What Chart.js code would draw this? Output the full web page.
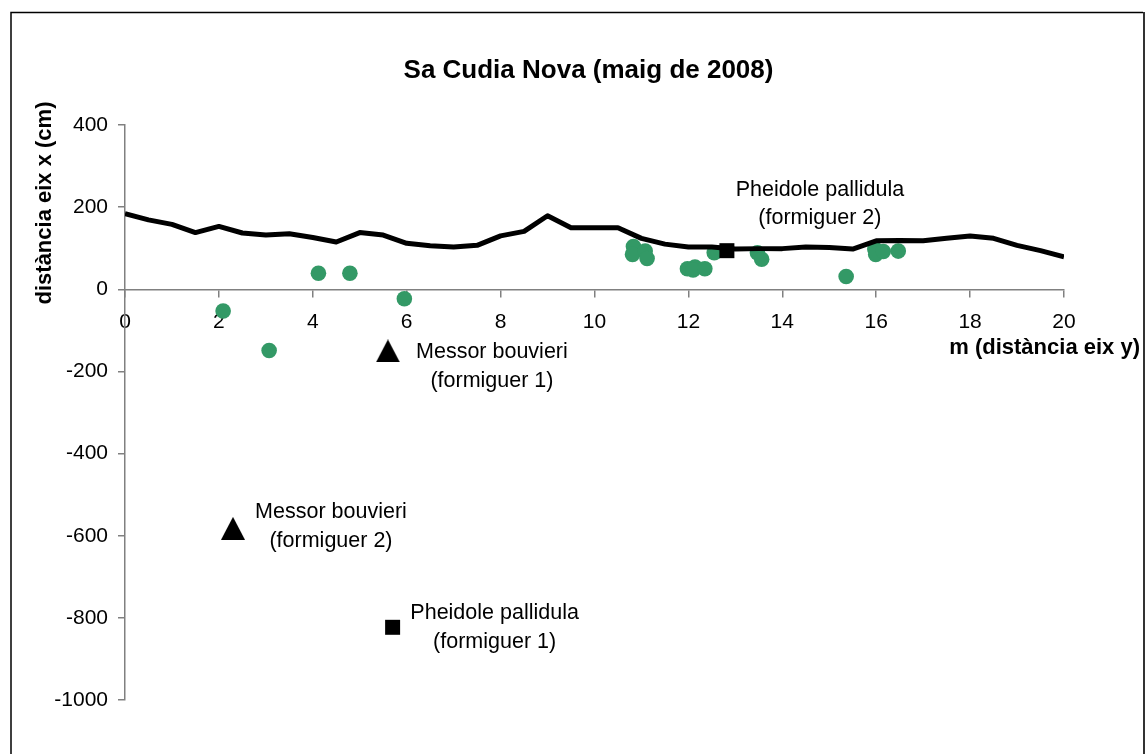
<!DOCTYPE html>
<html>
<head>
<meta charset="utf-8">
<title>Sa Cudia Nova (maig de 2008)</title>
<script src="https://cdn.jsdelivr.net/npm/chart.js@4/dist/chart.umd.min.js"></script>
<style>
  html, body { margin: 0; padding: 0; background: #fff; }
  #wrap { width: 1147px; height: 754px; }
</style>
</head>
<body>
<div id="wrap"><canvas id="myChart" width="1147" height="754"></canvas></div>
<script>
// ===== data =====
const lineX = [0, 0.5, 1, 1.5, 2, 2.5, 3, 3.5, 4, 4.5, 5, 5.5, 6, 6.5, 7, 7.5, 8, 8.5, 9, 9.5, 10,
  10.5, 11, 11.5, 12, 12.5, 13, 13.5, 14, 14.5, 15, 15.5, 16, 16.5, 17, 17.5, 18, 18.5, 19, 19.5, 20];
const lineY = [184, 169, 158, 138, 153, 137, 132, 135, 126, 115, 138, 132, 112, 106, 103, 107, 130, 141, 179, 150, 150,
  150, 124, 110, 103, 103, 98, 99, 99, 103, 102, 98, 118, 119, 118, 124, 130, 124, 107, 94, 79];

const antX = [2.09, 3.07, 4.12, 4.79, 5.95, 10.83, 10.81, 11.08, 11.12, 11.98, 12.14, 12.1, 12.35, 12.55,
  13.47, 13.56, 15.36, 15.97, 15.99, 16.15, 16.47];
const antY = [-53, -149, 39, 39, -23, 104, 85, 93, 75, 50, 54, 47, 50, 89,
  89, 73, 31, 98, 85, 92, 93];

const messorX = [5.6, 2.3];
const messorY = [-150, -582];
const messorNames = [["Messor bouvieri", "(formiguer 1)"], ["Messor bouvieri", "(formiguer 2)"]];

const pheidoleX = [5.7, 12.82];
const pheidoleY = [-823, 94];
const pheidoleNames = [["Pheidole pallidula", "(formiguer 1)"], ["Pheidole pallidula", "(formiguer 2)"]];

const xTicks = [0, 20, 2];      // min, max, step
const yTicks = [-1000, 400, 200];

const chartTitle = "Sa Cudia Nova (maig de 2008)";
const xTitle = "m (distància eix y)";
const yTitle = "distància eix x (cm)";

// ===== helpers =====
const FONT = "'Liberation Sans', Arial, sans-serif";
const GREEN = "#339966";
const AXIS = "#808080";

function toPoints(xs, ys) {
  return xs.map((x, i) => ({ x: x, y: ys[i] }));
}

function makeTriangle(w, h) {
  const c = document.createElement("canvas");
  c.width = w;
  c.height = h;
  const t = c.getContext("2d");
  t.fillStyle = "#000";
  t.beginPath();
  t.moveTo(w / 2, 0);
  t.lineTo(w, h);
  t.lineTo(0, h);
  t.closePath();
  t.fill();
  return c;
}

// label offsets from the marker, [dx, dy line1, dy line2]
const messorLabelPos = [[104, 1, 30], [98, -16, 13]];
const pheidoleLabelPos = [[102, -14, 15], [93, -61, -33]];

// ===== plugins =====
const framePlugin = {
  id: "frame",
  beforeDraw(chart) {
    const ctx = chart.ctx;
    ctx.save();
    ctx.fillStyle = "#fff";
    ctx.fillRect(0, 0, chart.width, chart.height);
    ctx.strokeStyle = "#000";
    ctx.lineWidth = 1.5;
    ctx.beginPath();
    ctx.moveTo(11, chart.height + 5);
    ctx.lineTo(11, 12.5);
    ctx.lineTo(1143, 12.5);
    ctx.stroke();
    ctx.strokeStyle = "#333";
    ctx.lineWidth = 2;
    ctx.beginPath();
    ctx.moveTo(1144, 12);
    ctx.lineTo(1144, chart.height + 5);
    ctx.stroke();
    ctx.restore();
  },
};

const textPlugin = {
  id: "texts",
  afterDatasetsDraw(chart) {
    const ctx = chart.ctx;
    const area = chart.chartArea;
    ctx.save();
    ctx.fillStyle = "#000";
    ctx.textBaseline = "middle";

    // chart title
    ctx.font = "bold 26px " + FONT;
    ctx.textAlign = "center";
    ctx.fillText(chartTitle, (area.left + area.right) / 2 - 6, area.top - 54);

    // x axis title
    ctx.font = "bold 22px " + FONT;
    ctx.textAlign = "right";
    ctx.fillText(xTitle, chart.width - 7, chart.scales.y.getPixelForValue(0) + 59);

    // y axis title
    ctx.save();
    ctx.translate(45, area.top + 78);
    ctx.rotate(-Math.PI / 2);
    ctx.textAlign = "center";
    ctx.fillText(yTitle, 0, 0);
    ctx.restore();

    // marker labels
    ctx.font = "21.5px " + FONT;
    ctx.textAlign = "center";
    const groups = [
      [2, messorNames, messorLabelPos],
      [3, pheidoleNames, pheidoleLabelPos],
    ];
    groups.forEach(([dsIndex, names, pos]) => {
      const meta = chart.getDatasetMeta(dsIndex);
      meta.data.forEach((pt, i) => {
        ctx.fillText(names[i][0], pt.x + pos[i][0], pt.y + pos[i][1]);
        ctx.fillText(names[i][1], pt.x + pos[i][0], pt.y + pos[i][2]);
      });
    });
    ctx.restore();
  },
};

// ===== chart =====
Chart.defaults.font.family = FONT;
Chart.defaults.color = "#000";

const ctx = document.getElementById("myChart").getContext("2d");
const scatterChart = new Chart(ctx, {
  type: "scatter",
  data: {
    datasets: [
      {
        label: "formigues",
        data: toPoints(antX, antY),
        backgroundColor: GREEN,
        borderColor: GREEN,
        borderWidth: 0,
        pointRadius: 7.8,
        order: 3,
      },
      {
        label: "eix",
        data: toPoints(lineX, lineY),
        showLine: true,
        borderColor: "#000",
        borderWidth: 5,
        borderJoinStyle: "round",
        pointRadius: 0,
        tension: 0,
        order: 2,
      },
      {
        label: "Messor bouvieri",
        data: toPoints(messorX, messorY),
        pointStyle: makeTriangle(24, 23),
        pointRadius: 12,
        backgroundColor: "#000",
        order: 1,
      },
      {
        label: "Pheidole pallidula",
        data: toPoints(pheidoleX, pheidoleY),
        pointStyle: "rect",
        pointRadius: 10.6,
        backgroundColor: "#000",
        borderColor: "#000",
        borderWidth: 0,
        order: 0,
      },
    ],
  },
  options: {
    responsive: false,
    animation: false,
    devicePixelRatio: 1,
    layout: {
      padding: { left: 20, top: 125, right: 83, bottom: 54 },
    },
    plugins: {
      legend: { display: false },
      title: { display: false },
      tooltip: { enabled: false },
    },
    scales: {
      x: {
        type: "linear",
        min: xTicks[0],
        max: xTicks[1],
        position: { y: 0 },
        ticks: {
          stepSize: xTicks[2],
          autoSkip: false,
          maxRotation: 0,
          padding: 13,
          color: "#000",
          font: { size: 21 },
          callback: (v) => String(v),
        },
        grid: {
          drawOnChartArea: false,
          drawTicks: true,
          tickLength: 7,
          color: AXIS,
          lineWidth: 1.5,
        },
        border: { color: AXIS, width: 1.5 },
      },
      y: {
        type: "linear",
        min: yTicks[0],
        max: yTicks[1],
        ticks: {
          stepSize: yTicks[2],
          padding: 10,
          color: "#000",
          font: { size: 21 },
          callback: (v) => String(v),
        },
        grid: {
          drawOnChartArea: false,
          drawTicks: true,
          tickLength: 7,
          color: AXIS,
          lineWidth: 1.5,
        },
        border: { color: AXIS, width: 1.5 },
        afterFit(scale) {
          scale.width = 105;
        },
      },
    },
  },
  plugins: [framePlugin, textPlugin],
});
</script>
</body>
</html>
